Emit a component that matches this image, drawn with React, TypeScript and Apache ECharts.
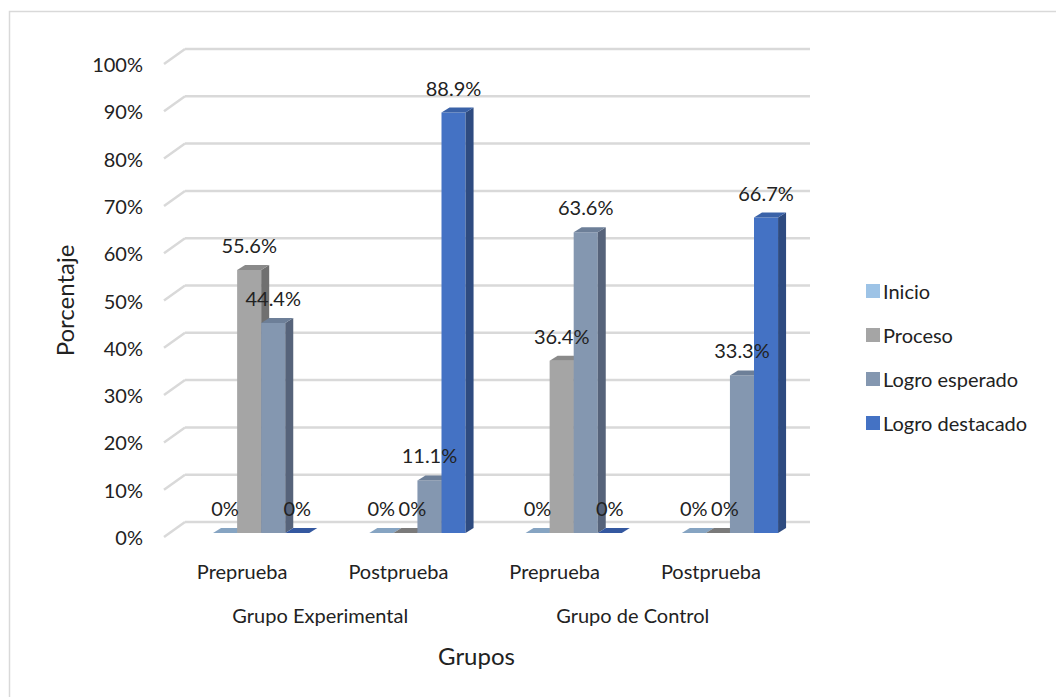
import React, { useEffect, useRef } from "react";
import * as echarts from "echarts";

const categories = ["Preprueba", "Postprueba", "Preprueba", "Postprueba"];
const groups = ["Grupo Experimental", "Grupo de Control"];
const seriesNames = ["Inicio", "Proceso", "Logro esperado", "Logro destacado"];
const inicio = [0, 0, 0, 0];
const proceso = [55.6, 0, 36.4, 0];
const logroEsperado = [44.4, 11.1, 63.6, 33.3];
const logroDestacado = [0, 88.9, 0, 66.7];
const yTicks = [0, 10, 20, 30, 40, 50, 60, 70, 80, 90, 100];

const FONT = "Lato, 'Noto Sans', sans-serif";
const TEXT = "#222222";

const palette = [
  { front: "#9DC3E6", side: "#6F8FB0", top: "#86A7CA", flat: "#86A4C2" },
  { front: "#A5A5A5", side: "#707070", top: "#8A8A8A", flat: "#7A7A7A" },
  { front: "#8497B0", side: "#56637A", top: "#6D7F98", flat: "#6D7F98" },
  { front: "#4472C4", side: "#2E4B80", top: "#3A62A8", flat: "#3458A0" },
];

const seriesValues = [inicio, proceso, logroEsperado, logroDestacado];

function barGeom(si: number, api: any) {
  const idx = api.value(0);
  const v = api.value(1);
  const center = api.coord([idx, 0]);
  const band = api.size([1, 0])[0];
  const bw = band * 0.154;
  const x0 = center[0] - band * 0.186 + si * bw;
  const yBase = center[1] - 4;
  const yTop = api.coord([idx, v])[1] - 4;
  return { v, bw, x0, yBase, yTop };
}

function makeBarRender(si: number) {
  return (params: any, api: any) => {
    const { v, bw, x0, yBase, yTop } = barGeom(si, api);
    const dx = 8;
    const dy = 5;
    const c = palette[si];
    const children: any[] = [];
    if (v > 0) {
      children.push({
        type: "rect",
        shape: { x: x0, y: yTop, width: bw, height: yBase - yTop },
        style: { fill: c.front },
      });
      children.push({
        type: "polygon",
        shape: {
          points: [
            [x0 + bw, yTop],
            [x0 + bw + dx, yTop - dy],
            [x0 + bw + dx, yBase - dy],
            [x0 + bw, yBase],
          ],
        },
        style: { fill: c.side },
      });
      children.push({
        type: "polygon",
        shape: {
          points: [
            [x0, yTop],
            [x0 + dx, yTop - dy],
            [x0 + bw + dx, yTop - dy],
            [x0 + bw, yTop],
          ],
        },
        style: { fill: c.top },
      });
    } else {
      children.push({
        type: "polygon",
        shape: {
          points: [
            [x0, yBase],
            [x0 + dx, yBase - dy],
            [x0 + bw + dx, yBase - dy],
            [x0 + bw, yBase],
          ],
        },
        style: { fill: c.flat },
      });
    }
    return { type: "group", children };
  };
}

function makeLabelRender(si: number) {
  return (params: any, api: any) => {
    const { v, bw, x0, yTop } = barGeom(si, api);
    const label = v === 0 ? "0%" : v.toFixed(1) + "%";
    const shift = si === 1 && v === 0 ? 7 : 0;
    return {
      type: "text",
      style: {
        x: x0 + bw / 2 + shift,
        y: yTop - 25,
        text: label,
        fill: TEXT,
        font: `20px ${FONT}`,
        align: "center",
        verticalAlign: "middle",
      },
    };
  };
}

function gridRender(params: any, api: any) {
  const v = api.value(1);
  const p = api.coord([0, v]);
  const left = params.coordSys.x;
  const width = params.coordSys.width;
  const y = p[1];
  const style = { stroke: "#D9D9D9", lineWidth: 2.5 };
  return {
    type: "group",
    children: [
      { type: "line", shape: { x1: left, y1: y, x2: left + 21, y2: y - 15 }, style },
      { type: "line", shape: { x1: left + 21, y1: y - 15, x2: left + 21 + width, y2: y - 15 }, style },
    ],
  };
}

export default function App() {
  const ref = useRef<HTMLDivElement>(null);
  useEffect(() => {
    if (!ref.current) return;
    const chart = echarts.init(ref.current, undefined, { renderer: "svg" });
    const series: any[] = [
      {
        type: "custom",
        name: "grid",
        silent: true,
        renderItem: gridRender,
        data: yTicks.map((t) => [0, t]),
        encode: { x: 0, y: 1 },
        z: 1,
      },
    ];
    seriesNames.forEach((name, si) => {
      series.push({
        type: "custom",
        name,
        renderItem: makeBarRender(si),
        itemStyle: { color: palette[si].front },
        data: seriesValues[si].map((v, i) => [i, v]),
        encode: { x: 0, y: 1 },
        z: 2 + si,
      });
    });
    seriesNames.forEach((name, si) => {
      series.push({
        type: "custom",
        name: name + " (etiquetas)",
        silent: true,
        renderItem: makeLabelRender(si),
        data: seriesValues[si].map((v, i) => [i, v]),
        encode: { x: 0, y: 1 },
        z: 20,
      });
    });
    chart.setOption({
      animation: false,
      backgroundColor: "#ffffff",
      textStyle: { fontFamily: FONT },
      graphic: [
        {
          type: "rect",
          shape: { x: 9.5, y: 11.5, width: 1200, height: 900 },
          style: { fill: "none", stroke: "#D9D9D9", lineWidth: 1.5 },
          silent: true,
        },
      ],
      grid: { left: 164, right: 267, top: 64, bottom: 160 },
      legend: {
        orient: "vertical",
        left: 861,
        top: 276,
        itemWidth: 14,
        itemHeight: 14,
        itemGap: 24,
        icon: "rect",
        data: seriesNames,
        textStyle: { fontSize: 20, color: TEXT, fontFamily: FONT, padding: [0, 0, 0, -2] },
      },
      xAxis: [
        {
          type: "category",
          data: categories,
          position: "bottom",
          axisLine: { show: false },
          axisTick: { show: false },
          axisLabel: { fontSize: 20, color: TEXT, margin: 24, fontFamily: FONT },
        },
        {
          type: "category",
          data: groups,
          position: "bottom",
          axisLine: { show: false },
          axisTick: { show: false },
          axisLabel: { fontSize: 20, color: TEXT, margin: 68, fontFamily: FONT },
          name: "Grupos",
          nameLocation: "middle",
          nameGap: 106,
          nameTextStyle: { fontSize: 24, color: TEXT, fontFamily: FONT },
        },
      ],
      yAxis: {
        type: "value",
        min: 0,
        max: 100,
        interval: 10,
        axisLine: { show: false },
        axisTick: { show: false },
        splitLine: { show: false },
        axisLabel: { fontSize: 20, color: TEXT, margin: 21, formatter: (v: number) => `${v}%`, fontFamily: FONT },
        name: "Porcentaje",
        nameLocation: "middle",
        nameGap: 88,
        nameRotate: 90,
        nameTextStyle: { fontSize: 24, color: TEXT, fontFamily: FONT },
      },
      series,
    });
    return () => chart.dispose();
  }, []);
  return (
    <div
      ref={ref}
      style={{ position: "fixed", left: 0, top: 0, width: 1056, height: 697 }}
    />
  );
}
